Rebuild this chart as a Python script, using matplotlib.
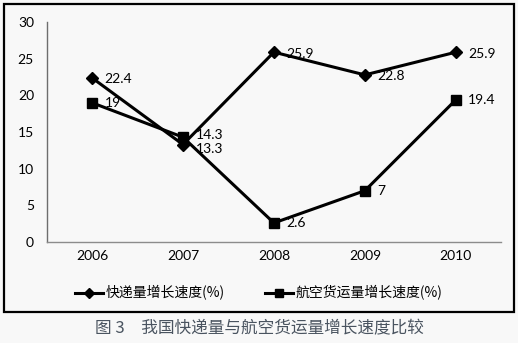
import matplotlib
matplotlib.use("Agg")
import matplotlib.pyplot as plt
from matplotlib.patches import Rectangle

# data
years = ["2006", "2007", "2008", "2009", "2010"]
express_growth = [22.4, 13.3, 25.9, 22.8, 25.9]
air_cargo_growth = [19, 14.3, 2.6, 7, 19.4]
y_ticks = [0, 5, 10, 15, 20, 25, 30]

express_label = "快递量增长速度(%)"
air_label = "航空货运量增长速度(%)"
caption = "图 3　我国快递量与航空货运量增长速度比较"

cjk = ["Noto Sans CJK SC", "DejaVu Sans"]
num_font = "Lato"
bg = "#f8f8f8"

fig = plt.figure(figsize=(5.18, 3.43), dpi=100, facecolor=bg)
ax = fig.add_axes([0.0898, 0.2945, 0.878, 0.641], facecolor=bg)

x = list(range(len(years)))
ax.plot(x, express_growth, color="black", lw=2.2, marker="D", ms=6.5,
        label=express_label)
ax.plot(x, air_cargo_growth, color="black", lw=2.2, marker="s", ms=7.5,
        label=air_label)

# value labels right of each point (2007 pair nudged apart a little)
for xi, v in zip(x, express_growth):
    dy = -3 if xi == 1 else -1
    ax.annotate(f"{v:g}", (xi, v), xytext=(9, dy), textcoords="offset points",
                ha="left", va="center", fontsize=10, family=num_font)
for xi, v in zip(x, air_cargo_growth):
    dy = 1.5 if xi == 1 else 0
    ax.annotate(f"{v:g}", (xi, v), xytext=(9, dy), textcoords="offset points",
                ha="left", va="center", fontsize=10, family=num_font)

ax.set_xlim(-0.5, len(years) - 0.5)
ax.set_ylim(0, 30)
ax.set_xticks(x)
ax.set_xticklabels(years, family=num_font, fontsize=10)
ax.set_yticks(y_ticks)
ax.set_yticklabels([str(t) for t in y_ticks], family=num_font, fontsize=10)
ax.tick_params(axis="y", length=0, pad=9)
ax.tick_params(axis="x", length=0, pad=6)

for side in ["top", "right"]:
    ax.spines[side].set_visible(False)
ax.spines["left"].set_color("#6e6e6e")
ax.spines["bottom"].set_color("#8c8c8c")
ax.spines["left"].set_linewidth(1.0)
ax.spines["bottom"].set_linewidth(1.0)

fig.legend(loc="center", bbox_to_anchor=(0.5, 0.146), ncol=2, frameon=False,
           prop={"family": cjk, "size": 10}, handlelength=2.0,
           handletextpad=0.2, columnspacing=2.9, markerscale=0.85)

# outer frame around the chart block
fig.patches.append(Rectangle((4 / 518, 31 / 343), 510 / 518, 308 / 343,
                             transform=fig.transFigure, fill=False,
                             edgecolor="black", lw=1.6))

fig.text(0.5, 0.041, caption, ha="center", va="center", fontsize=12,
         family=cjk, color="#4a5460")

fig.savefig("out.png", dpi=100, facecolor=bg)
